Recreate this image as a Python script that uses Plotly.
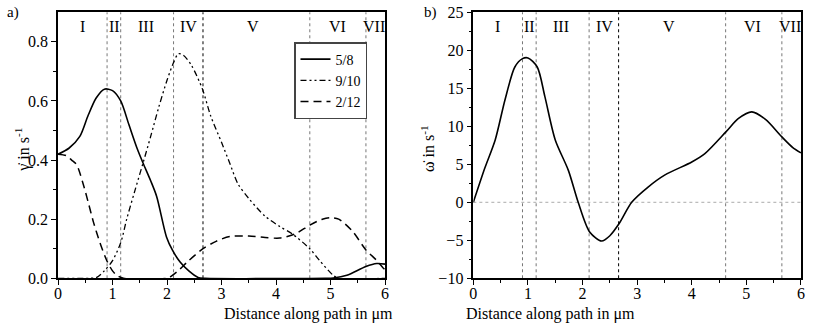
import plotly.graph_objects as go

# ---- data ----
x_58 = [0, 0.2, 0.4, 0.55, 0.7, 0.85, 1.0, 1.15, 1.3, 1.45, 1.56, 1.7, 1.81, 1.99, 2.1, 2.24, 2.4, 2.57, 2.7, 4.9, 5.05, 5.3, 5.65, 5.85, 6.0]
y_58 = [0.42, 0.44, 0.48, 0.55, 0.61, 0.64, 0.635, 0.60, 0.52, 0.44, 0.39, 0.33, 0.277, 0.14, 0.095, 0.055, 0.025, 0.003, 0, 0, 0.001, 0.01, 0.04, 0.05, 0.048]

x_910 = [0, 0.6, 0.71, 0.85, 1.0, 1.15, 1.26, 1.4, 1.56, 1.7, 1.85, 2.0, 2.12, 2.21, 2.3, 2.45, 2.65, 2.8, 3.0, 3.15, 3.3, 3.5, 3.8, 4.07, 4.3, 4.62, 4.8, 5.05, 5.15, 6.0]
y_910 = [0, 0, 0.003, 0.025, 0.06, 0.12, 0.2, 0.29, 0.39, 0.48, 0.58, 0.67, 0.73, 0.76, 0.755, 0.72, 0.64, 0.55, 0.46, 0.39, 0.32, 0.27, 0.21, 0.175, 0.15, 0.10, 0.06, 0.01, 0, 0]

x_212 = [0, 0.15, 0.25, 0.34, 0.46, 0.55, 0.65, 0.77, 0.89, 1.0, 1.08, 1.2, 2.0, 2.06, 2.2, 2.4, 2.66, 2.9, 3.15, 3.5, 3.8, 4.07, 4.35, 4.62, 4.85, 4.99, 5.15, 5.4, 5.65, 5.85, 5.97, 6.0]
y_212 = [0.42, 0.415, 0.40, 0.385, 0.32, 0.26, 0.19, 0.12, 0.062, 0.025, 0.01, 0, 0, 0.005, 0.025, 0.06, 0.10, 0.125, 0.141, 0.143, 0.138, 0.136, 0.15, 0.18, 0.2, 0.205, 0.2, 0.16, 0.096, 0.06, 0.034, 0.03]

x_om = [0, 0.21, 0.4, 0.58, 0.76, 0.9, 1.0, 1.17, 1.31, 1.5, 1.74, 1.92, 2.13, 2.35, 2.5, 2.67, 2.9, 3.2, 3.51, 4.0, 4.24, 4.63, 4.85, 5.1, 5.35, 5.65, 5.85, 6.0]
y_om = [0, 4.5, 8.2, 13.5, 17.8, 18.9, 19.0, 17.8, 13.9, 8.2, 4.2, 0, -3.9, -5.1, -4.4, -2.8, 0, 2.0, 3.6, 5.3, 6.4, 9.3, 11.0, 11.9, 10.9, 8.6, 7.2, 6.5]

boundaries = [0.9, 1.15, 2.12, 2.66, 4.62, 5.65]
regions = ["I", "II", "III", "IV", "V", "VI", "VII"]
region_x = [0.44, 1.03, 1.61, 2.4, 3.58, 5.12, 5.8]

FONT = '"Liberation Serif", "Times New Roman", Times, serif'
fig = go.Figure()

fig.add_trace(go.Scatter(x=x_58, y=y_58, name="5/8", mode="lines",
                         line=dict(color="black", width=1.6, shape="spline", smoothing=0.8),
                         xaxis="x", yaxis="y"))
fig.add_trace(go.Scatter(x=x_910, y=y_910, name="9/10", mode="lines",
                         line=dict(color="black", width=1.3, shape="spline", smoothing=0.8,
                                   dash="6px,3px,2px,3px,2px,3px"),
                         xaxis="x", yaxis="y"))
fig.add_trace(go.Scatter(x=x_212, y=y_212, name="2/12", mode="lines",
                         line=dict(color="black", width=1.5, shape="spline", smoothing=0.8,
                                   dash="8px,5px"),
                         xaxis="x", yaxis="y"))
fig.add_trace(go.Scatter(x=x_om, y=y_om, name="omega", mode="lines", showlegend=False,
                         line=dict(color="black", width=1.6, shape="spline", smoothing=0.8),
                         xaxis="x2", yaxis="y2"))

shapes = []
for ax, ay in (("x", "y"), ("x2", "y2")):
    for i, b in enumerate(boundaries):
        shapes.append(dict(type="line", xref=ax, yref=ay + " domain", x0=b, x1=b, y0=0, y1=1,
                           line=dict(color="black" if i == 3 else "#777777", width=1, dash="dot"),
                           layer="below"))
shapes.append(dict(type="line", xref="x2 domain", yref="y2", x0=0, x1=1, y0=0, y1=0,
                   line=dict(color="#aaaaaa", width=1, dash="dot"), layer="below"))

ann = []
for ax in ("x", "x2"):
    for r, rx in zip(regions, region_x):
        ann.append(dict(text=r, x=rx, xref=ax, y=1 - 26 / 327, yref="paper", yanchor="middle",
                        showarrow=False, font=dict(family=FONT, size=16, color="black")))
ann += [
    dict(text="a)", x=0.006, y=0.995, xref="paper", yref="paper", showarrow=False,
         font=dict(family=FONT, size=15, color="black"), xanchor="left", yanchor="top"),
    dict(text="b)", x=0.518, y=0.995, xref="paper", yref="paper", showarrow=False,
         font=dict(family=FONT, size=15, color="black"), xanchor="left", yanchor="top"),
    dict(text="Distance along path in \u03bcm", x=0.272, y=0.0, xref="paper", yref="paper",
         showarrow=False, font=dict(family=FONT, size=16, color="black"), yanchor="bottom", yshift=2),
    dict(text="Distance along path in \u03bcm", x=0.782, y=0.0, xref="paper", yref="paper",
         showarrow=False, font=dict(family=FONT, size=16, color="black"), yanchor="bottom", yshift=2),
    dict(text="\u03b3\u0307 in s<sup>-1</sup>", x=0.012, y=0.543, xref="paper", yref="paper",
         textangle=-90, showarrow=False, font=dict(family=FONT, size=16, color="black")),
    dict(text="\u03c9\u0307 in s<sup>-1</sup>", x=0.525, y=0.547, xref="paper", yref="paper",
         textangle=-90, showarrow=False, font=dict(family=FONT, size=16, color="black")),
]

axis_common = dict(showline=True, linecolor="black", linewidth=1.5, mirror=True,
                   ticks="outside", ticklen=5, tickwidth=1.2, tickcolor="black",
                   showgrid=False, zeroline=False, automargin=False,
                   tickfont=dict(family=FONT, size=16, color="black"))

fig.update_layout(
    template="none",
    width=815, height=327, margin=dict(l=0, r=0, t=0, b=0, pad=0),
    paper_bgcolor="white", plot_bgcolor="white",
    font=dict(family=FONT, color="black"),
    showlegend=True,
    legend=dict(x=294 / 815, y=1 - 42 / 327, xanchor="left", yanchor="top",
                bordercolor="#444444", borderwidth=1.5, bgcolor="white",
                font=dict(family=FONT, size=14, color="black"),
                tracegroupgap=0, itemwidth=30),
    xaxis=dict(domain=[0.0712, 0.4724], range=[0, 6], dtick=1, ticklabelstandoff=-5,
               minor=dict(ticks="outside", ticklen=3, dtick=0.5, tickcolor="black"),
               anchor="y", **axis_common),
    yaxis=dict(domain=[0.149, 0.9624], range=[0, 0.9], tickvals=[0, 0.2, 0.4, 0.6, 0.8],
               ticktext=["0.0", "0.2", "0.4", "0.6", "0.8"],
               minor=dict(ticks="outside", ticklen=3, tickvals=[0.1, 0.3, 0.5, 0.7], tickcolor="black"),
               anchor="x", **axis_common),
    xaxis2=dict(domain=[0.5808, 0.9828], range=[0, 6], dtick=1, ticklabelstandoff=-5,
                minor=dict(ticks="outside", ticklen=3, dtick=0.5, tickcolor="black"),
                anchor="y2", **axis_common),
    yaxis2=dict(domain=[0.149, 0.9624], range=[-10, 25], dtick=5,
                minor=dict(ticks="outside", ticklen=3, dtick=2.5, tickcolor="black"),
                anchor="x2", **axis_common),
    shapes=shapes, annotations=ann,
)

fig.write_html("out.html")
